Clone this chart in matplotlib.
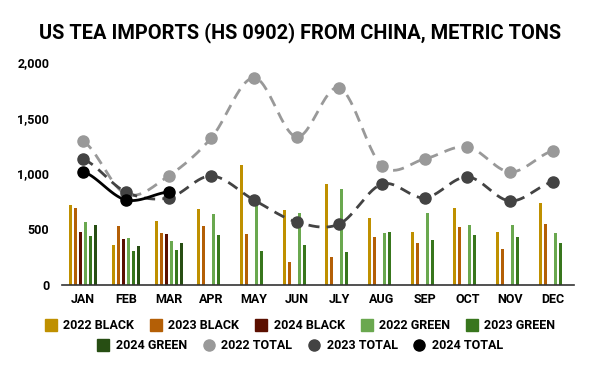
import numpy as np
import matplotlib
matplotlib.use("Agg")
import matplotlib.pyplot as plt
from matplotlib.lines import Line2D

plt.rcParams['font.family'] = ['Roboto', 'DejaVu Sans']
plt.rcParams['font.weight'] = 'bold'

months = ["JAN", "FEB", "MAR", "APR", "MAY", "JUN", "JLY", "AUG", "SEP", "OCT", "NOV", "DEC"]

black_2022 = [717, 359, 574, 682, 1076, 673, 906, 601, 475, 691, 475, 735]
black_2023 = [688, 529, 466, 529, 457, 206, 251, 430, 377, 520, 323, 547]
black_2024 = [478, 413, 457]
green_2022 = [565, 422, 395, 637, 784, 646, 861, 466, 646, 538, 538, 466]
green_2023 = [440, 305, 314, 449, 305, 359, 296, 475, 404, 449, 430, 377]
green_2024 = [538, 350, 377]
total_2022 = [1290, 815, 978, 1318, 1858, 1328, 1768, 1067, 1130, 1238, 1013, 1202]
total_2023 = [1128, 834, 780, 978, 762, 565, 547, 905, 781, 969, 753, 924]
total_2024 = [1016, 763, 834]

bar_series = [
    ("2022 BLACK", black_2022, "#bf9000"),
    ("2023 BLACK", black_2023, "#b45f06"),
    ("2024 BLACK", black_2024, "#5b0f00"),
    ("2022 GREEN", green_2022, "#6aa84f"),
    ("2023 GREEN", green_2023, "#38761d"),
    ("2024 GREEN", green_2024, "#274e13"),
]
line_series = [
    ("2022 TOTAL", total_2022, "#999999", (0, (4, 2.6))),
    ("2023 TOTAL", total_2023, "#434343", (0, (4, 2.6))),
    ("2024 TOTAL", total_2024, "#000000", "-"),
]


def smooth(y, n=30):
    # catmull-rom style curve through the points (drawing only)
    y = np.asarray(y, float)
    x = np.arange(len(y))
    if len(y) < 3:
        return x, y
    m = np.zeros_like(y)
    m[1:-1] = (y[2:] - y[:-2]) / 2
    m[0] = (y[1] - y[0]) / 2
    m[-1] = (y[-1] - y[-2]) / 2
    xs, ys = [], []
    for i in range(len(y) - 1):
        t = np.linspace(0, 1, n, endpoint=False)
        h00 = 2*t**3 - 3*t**2 + 1
        h10 = t**3 - 2*t**2 + t
        h01 = -2*t**3 + 3*t**2
        h11 = t**3 - t**2
        xs.append(x[i] + t)
        ys.append(h00*y[i] + h10*m[i] + h01*y[i+1] + h11*m[i+1])
    xs.append([x[-1]])
    ys.append([y[-1]])
    return np.concatenate(xs), np.concatenate(ys)


fig = plt.figure(figsize=(6, 3.71), dpi=100)
ax = fig.add_axes([0.103, 0.232, 0.854, 0.601])

step = 0.117
width = 0.07
for k, (name, vals, col) in enumerate(bar_series):
    xpos = np.arange(len(vals)) + (k - 2.5) * step
    ax.bar(xpos, vals, width=width, color=col, zorder=2)

for name, vals, col, ls in line_series:
    sx, sy = smooth(vals)
    ax.plot(sx, sy, color=col, lw=2, linestyle=ls, zorder=3)
    ax.plot(np.arange(len(vals)), vals, 'o', color=col, ms=8, zorder=4)

ax.set_xlim(-0.5, 11.5)
ax.set_ylim(0, 2000)
ax.set_yticks([0, 500, 1000, 1500, 2000])
ax.set_yticklabels(["0", "500", "1,000", "1,500", "2,000"])
ax.set_xticks(range(12))
ax.set_xticklabels(months)
ax.tick_params(length=0, labelsize=9, colors="#000000", pad=6)
ax.tick_params(axis='y', pad=9)
for s in ["top", "right", "left"]:
    ax.spines[s].set_visible(False)
ax.spines["bottom"].set_color("#333333")
ax.spines["bottom"].set_linewidth(1.2)

fig.text(0.5, 0.913, "US TEA IMPORTS (HS 0902) FROM CHINA, METRIC TONS",
         ha="center", va="center", fontsize=14.4, fontweight="bold")

h1 = [Line2D([], [], marker='s', ls='', color=c, ms=8, label=n) for n, v, c in bar_series[:5]]
h2 = [Line2D([], [], marker='s', ls='', color=bar_series[5][2], ms=8, label=bar_series[5][0])]
h2 += [Line2D([], [], marker='o', ls='', color=c, ms=8, label=n) for n, v, c, l in line_series]

leg_kw = dict(frameon=False, fontsize=9, handletextpad=0.5, columnspacing=1.25,
              handlelength=1.0, borderaxespad=0)
fig.legend(handles=h1, ncol=5, loc="center", bbox_to_anchor=(0.5, 0.122), **leg_kw)
fig.legend(handles=h2, ncol=4, loc="center", bbox_to_anchor=(0.5, 0.068), **leg_kw)

fig.savefig("out.png", dpi=100)
